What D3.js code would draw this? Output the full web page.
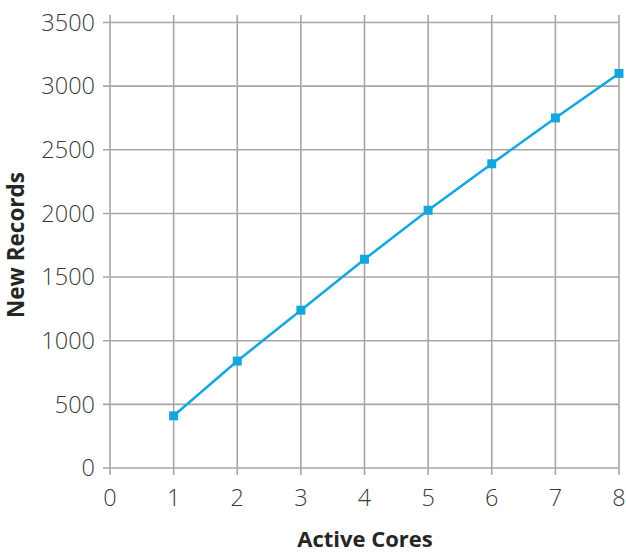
<!DOCTYPE html>
<html><head><meta charset="utf-8">
<script src="https://cdn.jsdelivr.net/npm/d3@7"></script>
<style>body{margin:0;background:#fff}svg{display:block}</style>
</head><body><svg id="c" width="626" height="553"></svg>
<script>
const cores = [1, 2, 3, 4, 5, 6, 7, 8];
const records = [410, 840, 1240, 1640, 2025, 2390, 2750, 3100];
const xTicks = [0, 1, 2, 3, 4, 5, 6, 7, 8];
const yTicks = [0, 500, 1000, 1500, 2000, 2500, 3000, 3500];
const xTitle = "Active Cores";
const yTitle = "New Records";

const svg = d3.select("#c");
const x = d3.scaleLinear().domain([0, 8]).range([110, 619]);
const y = d3.scaleLinear().domain([0, 3500]).range([468, 22.5]);
const gridColor = "#a6a6a6";
const font = "'Open Sans', sans-serif";

// vertical grid
svg.append("g").selectAll("line").data(xTicks).join("line")
  .attr("x1", d => x(d)).attr("x2", d => x(d))
  .attr("y1", 15).attr("y2", 475)
  .attr("stroke", gridColor).attr("stroke-width", 1.6);
// horizontal grid
svg.append("g").selectAll("line").data(yTicks).join("line")
  .attr("x1", 103).attr("x2", 619)
  .attr("y1", d => y(d)).attr("y2", d => y(d))
  .attr("stroke", gridColor).attr("stroke-width", 1.6);

// tick labels
svg.append("g").selectAll("text").data(xTicks).join("text")
  .attr("x", d => x(d)).attr("y", 506)
  .attr("text-anchor", "middle")
  .attr("font-family", font).attr("font-size", 23.5).attr("font-weight", 300).attr("fill", "#3a3a3a")
  .text(d => d);
svg.append("g").selectAll("text").data(yTicks).join("text")
  .attr("x", 95).attr("y", d => y(d)).attr("dy", "0.35em")
  .attr("text-anchor", "end")
  .attr("font-family", font).attr("font-size", 23.5).attr("font-weight", 300).attr("fill", "#3a3a3a")
  .text(d => d);

// line
const color = "#15a6dd";
svg.append("path").datum(cores.map((c, i) => [c, records[i]]))
  .attr("d", d3.line().x(d => x(d[0])).y(d => y(d[1])))
  .attr("fill", "none").attr("stroke", color).attr("stroke-width", 2.5);
svg.append("g").selectAll("rect").data(cores).join("rect")
  .attr("x", (d) => x(d) - 4.5).attr("y", (d, i) => y(records[i]) - 4.5)
  .attr("width", 9).attr("height", 9).attr("fill", color);

// titles
svg.append("text").attr("x", 365).attr("y", 546.5).attr("text-anchor", "middle")
  .attr("font-family", font).attr("font-weight", "bold").attr("font-size", 22)
  .attr("fill", "#262626").text(xTitle);
svg.append("text").attr("transform", "translate(24,245) rotate(-90)")
  .attr("text-anchor", "middle")
  .attr("font-family", font).attr("font-weight", "bold").attr("font-size", 22.5)
  .attr("fill", "#262626").text(yTitle);
</script></body></html>
